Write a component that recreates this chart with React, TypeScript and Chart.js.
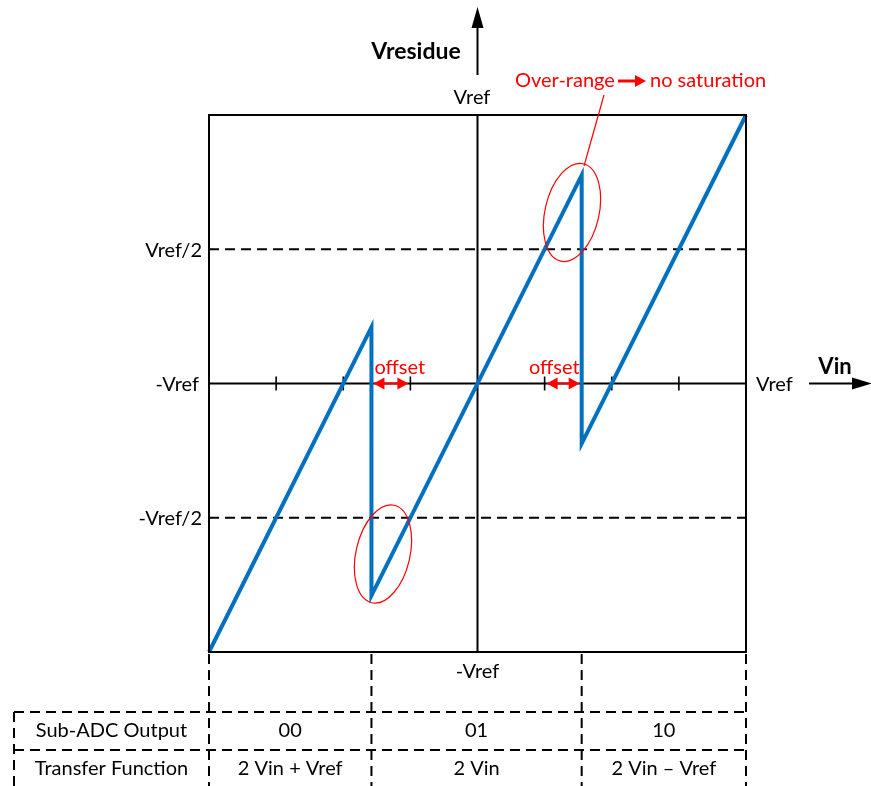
import React, { useEffect, useRef } from "react";
import { Chart, registerables } from "chart.js";

Chart.register(...registerables);

// Residue transfer curve (x = Vin / Vref, y = Vresidue / Vref)
const sawX = [-1, -0.395, -0.395, 0.388, 0.388, 1];
const sawY = [-1, 0.21, -0.79, 0.776, -0.224, 1];

// Dashed reference levels (±Vref/2)
const levelValues = [0.5, -0.5];
const levelLabels = ["Vref/2", "-Vref/2"];

// Small tick marks on the Vin axis
const xTickValues = [-0.75, -0.5, -0.25, 0.25, 0.5, 0.75];

// Sub-ADC regions (boundaries follow the transition points)
const regionBounds = [-1, -0.395, 0.388, 1];
const subAdcCodes = ["00", "01", "10"];
const transferFns = ["2 Vin + Vref", "2 Vin", "2 Vin \u2013 Vref"];
const tableHeaders = ["Sub-ADC Output", "Transfer Function"];

// Offset arrows: [transition, ideal tick] on the Vin axis
const offsetSpans = [
  [-0.395, -0.25],
  [0.388, 0.25],
];

// Over-range highlights (ellipse centres in data units)
const ellipseX = [-0.352, 0.352];
const ellipseY = [-0.635, 0.637];

const FONT = "Lato, 'Open Sans', sans-serif";
const W = 871;
const H = 786;

function arrowHead(ctx: CanvasRenderingContext2D, tx: number, ty: number, dx: number, dy: number, len: number, half: number) {
  const bx = tx - dx * len;
  const by = ty - dy * len;
  const px = -dy;
  const py = dx;
  ctx.beginPath();
  ctx.moveTo(tx, ty);
  ctx.lineTo(bx + px * half, by + py * half);
  ctx.lineTo(bx - px * half, by - py * half);
  ctx.closePath();
  ctx.fill();
}

const diagramPlugin = {
  id: "diagram",
  beforeDatasetsDraw(chart: any) {
    const { ctx, chartArea: a, scales } = chart;
    const xs = scales.x;
    const ys = scales.y;
    const x0 = xs.getPixelForValue(0);
    const y0 = ys.getPixelForValue(0);
    ctx.save();
    ctx.strokeStyle = "#000";
    ctx.lineWidth = 2;
    ctx.setLineDash([]);
    ctx.beginPath();
    ctx.moveTo(a.left, y0);
    ctx.lineTo(a.right, y0);
    ctx.moveTo(x0, a.top);
    ctx.lineTo(x0, a.bottom);
    ctx.stroke();
    ctx.lineWidth = 1.6;
    ctx.beginPath();
    for (const v of xTickValues) {
      const px = xs.getPixelForValue(v);
      ctx.moveTo(px, y0 - 7);
      ctx.lineTo(px, y0 + 7);
    }
    ctx.stroke();
    ctx.restore();
  },
  afterDatasetsDraw(chart: any) {
    const { ctx, chartArea: a, scales } = chart;
    const xs = scales.x;
    const ys = scales.y;
    const x0 = xs.getPixelForValue(0);
    const y0 = ys.getPixelForValue(0);
    ctx.save();

    // Frame
    ctx.strokeStyle = "#000";
    ctx.lineWidth = 2;
    ctx.setLineDash([]);
    ctx.strokeRect(a.left, a.top, a.width, a.height);

    // Axis arrows
    ctx.fillStyle = "#000";
    ctx.lineWidth = 2;
    ctx.beginPath();
    ctx.moveTo(x0, 75);
    ctx.lineTo(x0, 24);
    ctx.stroke();
    arrowHead(ctx, x0, 7, 0, -1, 21, 6);
    ctx.beginPath();
    ctx.moveTo(809, y0);
    ctx.lineTo(854, y0);
    ctx.stroke();
    arrowHead(ctx, 872, y0, 1, 0, 20, 6);

    // Axis titles
    ctx.textBaseline = "middle";
    ctx.textAlign = "center";
    ctx.font = `bold 23px ${FONT}`;
    ctx.fillText("Vresidue", 416, 52);
    ctx.font = `bold 22px ${FONT}`;
    ctx.fillText("Vin", 835, 367);

    // Tick labels
    ctx.font = `20px ${FONT}`;
    ctx.fillText("Vref", 472, 98);
    ctx.fillText("-Vref", x0, 672);
    ctx.textAlign = "right";
    ctx.fillText("-Vref", 199, y0 + 1);
    levelValues.forEach((v, i) => {
      ctx.fillText(levelLabels[i], 202, ys.getPixelForValue(v) + 1);
    });
    ctx.textAlign = "left";
    ctx.fillText("Vref", 756, y0 + 1);

    // Table (dashed)
    const tTop = 712;
    const tMid = 750;
    const tLeft = 14;
    const bx = regionBounds.map((v) => xs.getPixelForValue(v));
    ctx.setLineDash([10, 6]);
    ctx.lineWidth = 2;
    ctx.beginPath();
    for (const px of bx) {
      ctx.moveTo(px, a.bottom + 2);
      ctx.lineTo(px, H);
    }
    ctx.moveTo(tLeft, tTop);
    ctx.lineTo(tLeft, H);
    ctx.moveTo(tLeft, tTop);
    ctx.lineTo(a.right, tTop);
    ctx.moveTo(tLeft, tMid);
    ctx.lineTo(a.right, tMid);
    ctx.stroke();
    ctx.setLineDash([]);

    ctx.font = `20px ${FONT}`;
    ctx.textAlign = "center";
    ctx.fillStyle = "#000";
    const r1 = 731;
    const r2 = 769;
    ctx.fillText(tableHeaders[0], (tLeft + bx[0]) / 2, r1);
    ctx.fillText(tableHeaders[1], (tLeft + bx[0]) / 2, r2);
    for (let i = 0; i < subAdcCodes.length; i++) {
      const cx = (bx[i] + bx[i + 1]) / 2;
      ctx.fillText(subAdcCodes[i], cx, r1);
      ctx.fillText(transferFns[i], cx, r2);
    }

    // Red annotations
    const red = "#FF0000";
    ctx.strokeStyle = red;
    ctx.fillStyle = red;
    ctx.lineWidth = 2;
    ctx.font = `20px ${FONT}`;
    offsetSpans.forEach(([f, t]) => {
      const p1 = xs.getPixelForValue(f);
      const p2 = xs.getPixelForValue(t);
      const l = Math.min(p1, p2) + 2;
      const r = Math.max(p1, p2) - 2;
      ctx.beginPath();
      ctx.moveTo(l + 8, y0);
      ctx.lineTo(r - 8, y0);
      ctx.stroke();
      arrowHead(ctx, l, y0, -1, 0, 11, 6);
      arrowHead(ctx, r, y0, 1, 0, 11, 6);
      // label sits beside the transition edge
      if (p1 < p2) {
        ctx.textAlign = "left";
        ctx.fillText("offset", p1 + 3, y0 - 16);
      } else {
        ctx.textAlign = "right";
        ctx.fillText("offset", p1 - 2, y0 - 16);
      }
    });

    // ellipses
    ctx.lineWidth = 1.2;
    ellipseX.forEach((ex, i) => {
      const cx = xs.getPixelForValue(ex);
      const cy = ys.getPixelForValue(ellipseY[i]);
      ctx.beginPath();
      ctx.ellipse(cx, cy, 27, 50, (13 * Math.PI) / 180, 0, Math.PI * 2);
      ctx.stroke();
    });

    // leader line
    ctx.beginPath();
    ctx.moveTo(604, 95);
    ctx.lineTo(584, 166);
    ctx.stroke();

    // Over-range label
    ctx.font = `20px ${FONT}`;
    ctx.textAlign = "left";
    ctx.fillText("Over-range", 515, 81);
    ctx.fillText("no saturation", 650, 81);
    ctx.lineWidth = 3;
    ctx.beginPath();
    ctx.moveTo(618, 81);
    ctx.lineTo(636, 81);
    ctx.stroke();
    arrowHead(ctx, 646, 81, 1, 0, 11, 6);

    ctx.restore();
  },
};

export default function App() {
  const ref = useRef<HTMLCanvasElement | null>(null);

  useEffect(() => {
    if (!ref.current) return;
    const sawData = sawX.map((x, i) => ({ x, y: sawY[i] }));
    const levelSets = levelValues.map((v) => ({
      label: `level ${v}`,
      data: [
        { x: -1, y: v },
        { x: 1, y: v },
      ],
      borderColor: "#000",
      borderWidth: 2,
      borderDash: [10, 6],
      pointRadius: 0,
      showLine: true,
      fill: false,
      order: 2,
    }));
    const chart = new Chart(ref.current, {
      type: "scatter",
      data: {
        datasets: [
          {
            label: "Vresidue",
            data: sawData,
            borderColor: "#0070C0",
            borderWidth: 4,
            pointRadius: 0,
            showLine: true,
            fill: false,
            tension: 0,
            clip: false,
            borderJoinStyle: "miter",
            order: 1,
          } as any,
          ...levelSets,
        ],
      },
      options: {
        responsive: false,
        animation: false,
        events: [],
        layout: { padding: { left: 209, right: W - 746, top: 115, bottom: H - 652 } },
        plugins: { legend: { display: false }, tooltip: { enabled: false } },
        scales: {
          x: { type: "linear", min: -1, max: 1, display: false },
          y: { type: "linear", min: -1, max: 1, display: false },
        },
      },
      plugins: [diagramPlugin],
    });
    return () => chart.destroy();
  }, []);

  return (
    <div style={{ position: "absolute", left: 0, top: 0, width: W, height: H, background: "#fff" }}>
      <canvas ref={ref} width={W} height={H} style={{ display: "block" }} />
    </div>
  );
}
